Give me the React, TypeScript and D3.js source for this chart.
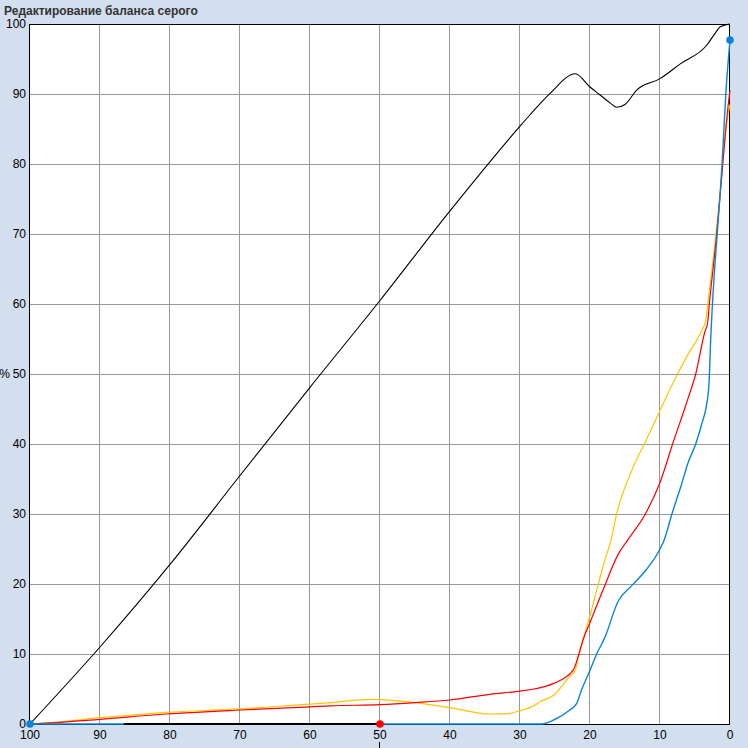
import React from "react";
import * as d3 from "d3";

const title = "Редактирование баланса серого";
const xTicks = [100, 90, 80, 70, 60, 50, 40, 30, 20, 10, 0];
const yTicks = [0, 10, 20, 30, 40, 50, 60, 70, 80, 90, 100];

// [input %, output %] pairs, ordered from 100 down to 0
const blackCurve: [number, number][] = [
  [100, 0], [90, 11], [80, 22.8], [70, 35.5], [60, 48.1], [50, 60.5], [40, 73.3], [30, 85.4],
  [28.6, 87], [25.7, 90.1], [22.1, 92.9], [20, 91], [18.6, 89.9], [17.1, 88.7], [16.2, 88.1],
  [15, 88.5], [13.3, 90.6], [10, 92.2], [7.1, 94.3], [3.3, 97], [2.1, 98.7], [1.4, 99.6], [0, 100],
];
const redCurve: [number, number][] = [
  [100, 0], [97, 0.15], [90, 0.67], [80.5, 1.43], [70, 2.0], [60, 2.45], [57, 2.6], [50, 2.76],
  [45, 3.05], [40, 3.43], [34.3, 4.24], [30, 4.7], [28, 5.0], [25.2, 5.8], [22.4, 7.7],
  [21.7, 9.6], [21, 12], [20, 14.5], [18, 19.5], [16, 24.2], [14.6, 26.3], [12.1, 30],
  [10, 34.5], [8.2, 40], [6, 46.5], [4.9, 50], [3.6, 56], [3.2, 57.3], [2.95, 60],
  [2.0, 69], [1.2, 78], [0.6, 85], [0.25, 88.5], [0, 90.5],
];
const yellowCurve: [number, number][] = [
  [100, 0], [97, 0.2], [90, 0.9], [80.5, 1.67], [70, 2.15], [60, 2.85], [57, 3.05], [51.4, 3.52],
  [45, 3.05], [40, 2.33], [34.3, 1.43], [32, 1.45], [30, 1.9], [28, 2.6], [27.1, 3.2],
  [25.2, 4.1], [22.9, 6.8], [22.1, 7.7], [21.7, 9.6], [21, 12], [20, 15.5], [18, 23],
  [17, 26.3], [16.2, 30], [14, 36.3], [12, 40.5], [10, 44.8], [8, 49], [6, 52.8], [4, 56.3],
  [3.5, 57.5], [3, 61.5], [2, 70], [1.2, 78], [0.7, 84], [0.3, 87], [0, 88.5],
];
const blueCurve: [number, number][] = [
  [100, 0], [50, 0], [27, 0], [25.2, 0.57], [22.9, 2], [21.9, 2.95], [21.2, 4.9], [20.2, 7.2],
  [19, 10.1], [17.9, 12.3], [16, 17.5], [14, 19.8], [12, 22], [10, 25], [9.4, 26.3], [8.3, 30],
  [7, 34], [6, 37.3], [4.9, 40], [4, 43], [3.4, 45.3], [3, 48.7], [2.76, 54.9], [2.24, 64.4],
  [1.9, 69], [1.1, 80.6], [0.6, 90], [0, 97.7],
];
const blackBase: [number, number][] = [[86.6, 0], [50, 0]];
const blueDots: [number, number][] = [[100, 0], [0, 97.7]];
const redDots: [number, number][] = [[50, 0]];
const markerTick = 50;

export default function App() {
  const W = 748, H = 748;
  const x = d3.scaleLinear().domain([100, 0]).range([30, 730]);
  const y = d3.scaleLinear().domain([0, 100]).range([724, 24]);
  const line = d3.line<[number, number]>().x((d) => x(d[0])).y((d) => y(d[1])).curve(d3.curveMonotoneX);
  const straight = d3.line<[number, number]>().x((d) => x(d[0])).y((d) => y(d[1]));
  const font = "'Liberation Sans', Arial, sans-serif";

  return (
    <svg width={W} height={H} style={{ position: "absolute", left: 0, top: 0, display: "block" }} fontFamily={font}>
      <rect x={0} y={0} width={W} height={H} fill="#d3deee" />
      <rect x={x(100)} y={y(100)} width={x(0) - x(100)} height={y(0) - y(100)} fill="#ffffff" />
      <text x={4} y={15} fontSize={12} fontWeight="bold" fill="#333">{title}</text>
      {xTicks.filter((t) => t !== 100 && t !== 0).map((t) => (
        <line key={"gx" + t} x1={x(t) - 0.5} x2={x(t) - 0.5} y1={y(0)} y2={y(100)} stroke="#999" strokeWidth={1} />
      ))}
      {yTicks.filter((t) => t !== 100 && t !== 0).map((t) => (
        <line key={"gy" + t} x1={x(100)} x2={x(0)} y1={y(t) + 0.5} y2={y(t) + 0.5} stroke="#999" strokeWidth={1} />
      ))}
      <rect x={x(100) - 0.5} y={y(100) + 0.5} width={x(0) - x(100)} height={y(0) - y(100)} fill="none" stroke="#000" strokeWidth={1} />
      <path d={line(yellowCurve) || ""} fill="none" stroke="#ffc400" strokeWidth={1.2} />
      <path d={line(redCurve) || ""} fill="none" stroke="#ff0000" strokeWidth={1.2} />
      <path d={line(blueCurve) || ""} fill="none" stroke="#0a84d6" strokeWidth={1.4} />
      <path d={line(blackCurve) || ""} fill="none" stroke="#000" strokeWidth={1.1} />
      <path d={straight(blackBase) || ""} fill="none" stroke="#000" strokeWidth={2} />
      {blueDots.map((d, i) => (
        <circle key={"bd" + i} cx={x(d[0])} cy={y(d[1])} r={3.8} fill="#0a84d6" />
      ))}
      {redDots.map((d, i) => (
        <circle key={"rd" + i} cx={x(d[0])} cy={y(d[1])} r={3.8} fill="#ff0000" />
      ))}
      {xTicks.map((t) => (
        <text key={"tx" + t} x={x(t)} y={739} fontSize={12} textAnchor="middle" fill="#000">{t}</text>
      ))}
      {yTicks.map((t) => (
        <text key={"ty" + t} x={26} y={y(t)} dy="0.35em" fontSize={12} textAnchor="end" fill="#000">{t}</text>
      ))}
      <text x={10} y={y(50)} dy="0.35em" fontSize={12} textAnchor="end" fill="#000">%</text>
      <line x1={x(markerTick) - 0.5} x2={x(markerTick) - 0.5} y1={742} y2={748} stroke="#000" strokeWidth={1} />
    </svg>
  );
}
